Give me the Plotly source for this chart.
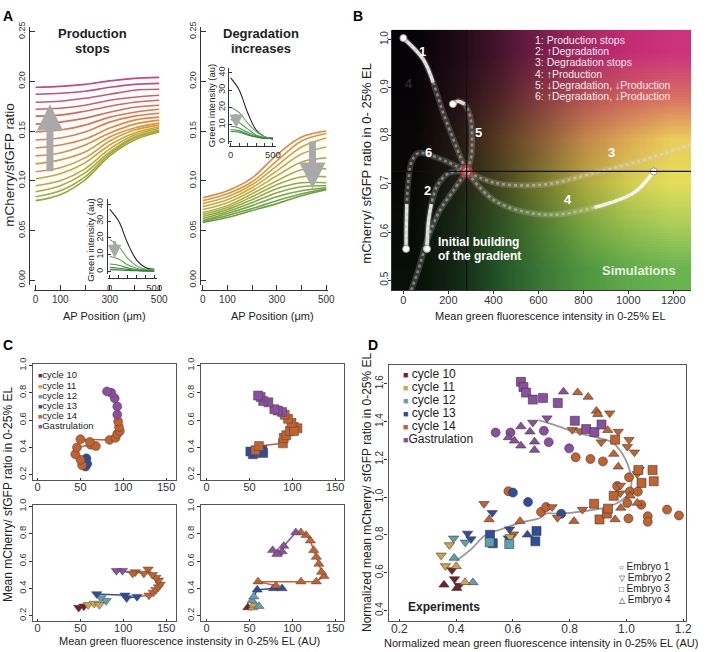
import base64
import struct
import zlib

import plotly.graph_objects as go

W, H = 709, 652
FONT = "Arial, 'Liberation Sans', sans-serif"
INK = "#333333"

# ---------------- Panel A: simulated ratio profiles ----------------
AP_X = [0, 100, 200, 300, 400, 500]

# production stops: profiles from first (bottom) to last (top)
PROD_STOP = [
    [0.080, 0.086, 0.101, 0.125, 0.141, 0.149],
    [0.084, 0.090, 0.104, 0.127, 0.143, 0.150],
    [0.089, 0.095, 0.108, 0.129, 0.144, 0.151],
    [0.095, 0.100, 0.112, 0.132, 0.146, 0.1525],
    [0.102, 0.107, 0.118, 0.136, 0.148, 0.154],
    [0.109, 0.113, 0.123, 0.140, 0.151, 0.156],
    [0.117, 0.121, 0.129, 0.144, 0.153, 0.158],
    [0.125, 0.128, 0.136, 0.148, 0.157, 0.161],
    [0.133, 0.136, 0.142, 0.153, 0.161, 0.164],
    [0.141, 0.143, 0.149, 0.159, 0.165, 0.168],
    [0.149, 0.151, 0.156, 0.164, 0.169, 0.172],
    [0.157, 0.159, 0.163, 0.169, 0.174, 0.176],
    [0.165, 0.166, 0.170, 0.175, 0.179, 0.181],
    [0.172, 0.173, 0.176, 0.181, 0.184, 0.186],
    [0.179, 0.180, 0.183, 0.187, 0.191, 0.192],
    [0.187, 0.188, 0.190, 0.194, 0.197, 0.198],
    [0.194, 0.195, 0.197, 0.2005, 0.203, 0.204],
]
PROD_STOP_COLORS = ["#93aa3e", "#a0aa3a", "#b0a838", "#c0a636", "#cca234", "#d69c34",
                    "#dc9436", "#e08c3a", "#e2843e", "#e27c44", "#e0744a", "#de6c52",
                    "#da645a", "#d65c62", "#d0546c", "#ca4c78", "#c44684"]

# degradation increases: profiles from first (top) to last (bottom)
DEG_UP = [
    [0.083, 0.090, 0.103, 0.126, 0.144, 0.150],
    [0.080, 0.087, 0.099, 0.120, 0.140, 0.1475],
    [0.077, 0.084, 0.096, 0.115, 0.134, 0.143],
    [0.074, 0.081, 0.093, 0.110, 0.127, 0.134],
    [0.071, 0.078, 0.090, 0.105, 0.119, 0.123],
    [0.068, 0.075, 0.087, 0.100, 0.111, 0.112],
    [0.066, 0.073, 0.084, 0.096, 0.104, 0.104],
    [0.064, 0.071, 0.081, 0.092, 0.098, 0.098],
    [0.062, 0.069, 0.078, 0.088, 0.094, 0.095],
    [0.060, 0.067, 0.075, 0.084, 0.090, 0.093],
    [0.059, 0.065, 0.072, 0.080, 0.087, 0.092],
    [0.058, 0.063, 0.070, 0.077, 0.085, 0.091],
]
DEG_UP_COLORS = ["#e0883e", "#dc963c", "#d8a23a", "#cca83a", "#bead3c", "#b0af3e",
                 "#a2ae40", "#94ac42", "#88a944", "#7ea544", "#74a244", "#6c9e44"]

INSET_X = [0, 100, 200, 300, 400, 500]
PROD_INSET = [
    [37, 30, 17, 7, 2.5, 1.5],
    [19, 15, 8, 3.5, 1.5, 1.0],
    [9, 7.5, 4, 2, 1.0, 0.8],
    [4.5, 3.8, 2.2, 1.2, 0.7, 0.5],
    [2.5, 2.0, 1.3, 0.8, 0.5, 0.4],
    [1.2, 1.0, 0.7, 0.5, 0.3, 0.3],
]
DEG_INSET = [
    [37, 30, 17, 7, 3, 1.5],
    [20, 17, 11, 6, 3, 2],
    [13, 11, 7.5, 4, 2.5, 2],
    [9, 8, 5.5, 3.5, 2.2, 2],
    [7, 6.5, 4.5, 3, 2, 2],
    [6, 5.5, 4, 2.8, 2, 2],
]
INSET_COLORS = ["#222222", "#6aa860", "#5a9e54", "#4a944a", "#3a8a40", "#2e8036"]

# ---------------- Panel B: simulated trajectories ----------------
CENTER = (281, 0.726)
# each path listed from its outer end towards the steady state
B_PATHS = [
    ([0, 88, 132, 176, 220, 256, 281], [1.003, 0.959, 0.911, 0.849, 0.795, 0.753, 0.726], True),
    ([220, 242, 271, 296, 305, 300, 281], [0.866, 0.872, 0.866, 0.842, 0.795, 0.753, 0.726], True),
    ([12, 12, 15, 22, 37, 66, 117, 190, 281],
     [0.565, 0.589, 0.658, 0.705, 0.747, 0.764, 0.760, 0.747, 0.726], True),
    ([105, 110, 124, 154, 205, 281], [0.565, 0.616, 0.658, 0.699, 0.723, 0.726], True),
    ([1113, 1025, 849, 630, 410, 281], [0.726, 0.682, 0.651, 0.636, 0.664, 0.726], True),
    ([1281, 1069, 849, 630, 410, 281], [0.782, 0.750, 0.723, 0.699, 0.702, 0.726], False),
    ([-29, 15, 66, 110, 161, 220, 281], [0.384, 0.452, 0.521, 0.589, 0.644, 0.685, 0.726], False),
]
B_NUMBERS = [("1", 84, 0.975), ("5", 334, 0.807), ("6", 110, 0.766), ("2", 105, 0.687),
             ("3", 923, 0.766), ("4", 730, 0.668)]
B_KEY = ["1: Production stops", "2: \u2191Degradation", "3: Degradation stops",
         "4: \u2191Production", "5: \u2193Degradation, \u2193Production",
         "6: \u2191Degradation, \u2193Production"]
# background colour field (rows bottom -> top)
B_BG = [
    [[8, 14, 8], [18, 40, 20], [35, 85, 40], [60, 120, 55], [80, 150, 65], [95, 170, 75], [105, 180, 80]],
    [[8, 12, 8], [25, 40, 22], [45, 82, 35], [80, 125, 50], [120, 165, 65], [150, 190, 80], [170, 205, 90]],
    [[8, 8, 6], [30, 32, 20], [70, 70, 30], [120, 120, 45], [175, 170, 60], [210, 205, 80], [228, 222, 90]],
    [[8, 6, 6], [35, 25, 20], [90, 60, 35], [140, 95, 55], [195, 135, 75], [222, 170, 85], [235, 205, 90]],
    [[6, 4, 6], [35, 15, 22], [80, 35, 40], [135, 60, 65], [180, 80, 85], [205, 95, 95], [215, 110, 100]],
    [[5, 3, 5], [30, 10, 20], [70, 20, 45], [120, 30, 75], [165, 40, 100], [195, 45, 115], [205, 50, 125]],
]

# ---------------- Panel C / D: experiments ----------------
CYCLES = [10, 11, 12, 13, 14, 15]
CYCLE_NAMES = ["cycle 10", "cycle 11", "cycle 12", "cycle 13", "cycle 14", "Gastrulation"]
CYCLE_COLORS = {10: "#7a1f27", 11: "#d2a24c", 12: "#5f9fb2", 13: "#2e4e9b",
                14: "#c3622e", 15: "#8b4f9f"}

C_E1_X = [57, 58, 56, 52, 50, 44, 46, 62, 68, 61, 50, 84, 91, 93, 96, 95, 94, 93, 93, 90, 86, 81]
C_E1_Y = [0.32, 0.28, 0.26, 0.27, 0.31, 0.35, 0.40, 0.42, 0.41, 0.44, 0.46, 0.455, 0.47, 0.50,
          0.52, 0.55, 0.59, 0.64, 0.70, 0.76, 0.80, 0.81]
C_E1_C = [13, 13, 13] + [14] * 14 + [15] * 5

C_E3_X = [56, 51, 54, 65, 66, 57, 61, 89, 90, 93, 97, 102, 106, 102, 99, 95, 91,
          88, 83, 79, 72, 66, 63, 60]
C_E3_Y = [0.36, 0.37, 0.35, 0.38, 0.36, 0.38, 0.41, 0.43, 0.47, 0.49, 0.52, 0.55, 0.54,
          0.52, 0.58, 0.61, 0.64, 0.66, 0.67, 0.68, 0.73, 0.74, 0.77, 0.78]
C_E3_C = [12, 13, 13, 13, 13] + [14] * 12 + [15] * 7

C_E2_X = [48, 54, 59, 66, 72, 80, 74, 69, 102, 104, 116, 130, 135, 138, 141, 143, 141,
          138, 134, 129, 124, 114, 111, 99, 92]
C_E2_Y = [0.26, 0.27, 0.28, 0.29, 0.28, 0.31, 0.33, 0.36, 0.35, 0.33, 0.34, 0.35, 0.37,
          0.39, 0.41, 0.43, 0.46, 0.48, 0.50, 0.54, 0.51, 0.52, 0.51, 0.53, 0.53]
C_E2_C = [10, 10, 11, 11, 11, 12, 12, 13, 13, 13, 13] + [14] * 12 + [15, 15]

C_E4_X = [48, 54, 55, 61, 53, 55, 59, 78, 88, 81, 60, 110, 128, 137, 134, 131, 128, 125,
          121, 116, 110, 104, 90, 88, 83, 77, 82]
C_E4_Y = [0.26, 0.26, 0.28, 0.27, 0.31, 0.34, 0.39, 0.40, 0.40, 0.42, 0.45, 0.45, 0.45,
          0.49, 0.52, 0.58, 0.63, 0.68, 0.75, 0.79, 0.81, 0.81, 0.71, 0.67, 0.66, 0.68, 0.65]
C_E4_C = [10, 11, 11, 12, 12, 12, 13, 13, 13] + [14] * 12 + [15] * 6

D_E1_X = [0.539, 0.591, 0.709, 0.726, 0.798, 0.821, 0.873, 0.917, 1.009, 0.967, 1.012, 1.040,
          1.003, 1.052, 1.007, 1.075, 1.075, 1.143, 1.185, 0.699, 0.717, 0.584, 0.600, 0.653, 0.770]
D_E1_Y = [1.342, 1.342, 1.351, 1.291, 1.258, 1.211, 1.202, 1.189, 1.105, 1.059, 1.030, 1.029,
          0.969, 0.960, 0.887, 0.899, 0.870, 0.934, 0.903, 0.922, 0.948, 1.031, 1.024, 0.974, 0.912]
D_E1_C = [15] * 5 + [14] * 17 + [13] * 3

D_E2_X = [0.670, 0.720, 0.809, 0.836, 0.941, 0.971, 1.009, 1.003, 1.028, 1.038, 0.911, 0.498,
          0.738, 0.757, 0.845, 0.978, 1.045, 0.979, 0.602, 0.527, 0.440, 0.452, 0.588, 0.584,
          0.432, 0.391, 0.376, 0.347, 0.362, 0.590, 0.385, 0.394, 0.410]
D_E2_Y = [1.395, 1.418, 1.356, 1.350, 1.444, 1.347, 1.304, 1.267, 1.237, 1.123, 1.291, 0.965,
          0.948, 0.891, 0.934, 1.021, 1.146, 1.062, 0.804, 0.917, 0.808, 0.778, 0.830, 0.783,
          0.761, 0.782, 0.747, 0.692, 0.636, 0.790, 0.614, 0.567, 0.532]
D_E2_C = [15] * 2 + [14] * 17 + [13] * 5 + [12] * 2 + [11] * 4 + [10] * 3

D_E3_X = [0.628, 0.637, 0.646, 0.670, 0.706, 0.758, 0.818, 0.858, 0.887, 0.912, 0.960, 1.042,
          1.092, 1.096, 1.053, 0.886, 0.905, 0.931, 0.935, 0.955, 0.519, 0.529, 0.683, 0.679,
          0.518, 0.587]
D_E3_Y = [1.610, 1.582, 1.553, 1.516, 1.525, 1.498, 1.404, 1.360, 1.344, 1.384, 1.304, 1.144,
          1.144, 1.084, 1.075, 0.965, 0.882, 0.913, 0.939, 1.007, 0.801, 0.756, 0.821, 0.766,
          0.761, 0.752]
D_E3_C = [15] * 10 + [14] * 10 + [13] * 4 + [12] * 2

D_E4_X = [0.584, 0.605, 0.628, 0.628, 0.660, 0.676, 0.676, 0.778, 0.828, 0.865, 0.894, 0.899,
          0.934, 0.955, 0.971, 0.516, 0.625, 0.815, 0.960, 0.980, 1.013, 1.038, 0.651, 0.393,
          0.459, 0.400, 0.431, 0.357, 0.402]
D_E4_Y = [1.316, 1.298, 1.374, 1.272, 1.346, 1.293, 1.249, 1.558, 1.554, 1.530, 1.456, 1.439,
          1.354, 1.228, 1.161, 0.882, 0.873, 0.873, 0.882, 0.943, 1.007, 0.969, 0.801, 0.678,
          0.549, 0.634, 0.549, 0.536, 0.518]
D_E4_C = [15] * 8 + [14] * 14 + [13] + [12] * 2 + [11] * 2 + [10] * 2

D_FIT_X = [0.402, 0.454, 0.500, 0.558, 0.628, 0.697, 0.714, 0.755, 0.847, 0.940, 0.986, 1.012,
           1.018, 1.008, 0.986, 0.951, 0.894, 0.824, 0.755, 0.691]
D_FIT_Y = [0.665, 0.726, 0.796, 0.830, 0.865, 0.891, 0.913, 0.913, 0.925, 0.951, 0.986, 1.030,
           1.080, 1.158, 1.228, 1.289, 1.316, 1.342, 1.377, 1.407]


# ---------------- helpers ----------------
def xdom(a, b):
    return [a / W, b / W]


def ydom(top, bottom):
    return [1 - bottom / H, 1 - top / H]


def cal(e0, e1, p0, v0, p1, v1):
    """axis range for pixel edges e0, e1 given two calibration ticks"""
    k = (v1 - v0) / (p1 - p0)
    return [v0 + (e0 - p0) * k, v0 + (e1 - p0) * k]


def base_axis(domain, rng, size=11, **kw):
    d = dict(domain=domain, range=rng, showgrid=False, zeroline=False, ticks="outside",
             ticklen=3, tickwidth=1, tickcolor=INK, linecolor=INK, linewidth=1,
             tickfont=dict(size=size, color=INK, family=FONT))
    d.update(kw)
    return d


def note(text, px, py, size=12, color="#222", **kw):
    kw.setdefault("xanchor", "center")
    kw.setdefault("yanchor", "middle")
    return dict(text=text, x=px / W, y=1 - py / H, xref="paper", yref="paper", showarrow=False,
                font=dict(size=size, color=color, family=FONT), **kw)


def png_uri(rows):
    """tiny RGB png (rows top -> bottom); the browser smooths it when stretched"""
    h, w = len(rows), len(rows[0])
    raw = b"".join(b"\x00" + bytes(v for px in row for v in px) for row in rows)

    def chunk(tag, data):
        body = tag + data
        return struct.pack(">I", len(data)) + body + struct.pack(">I", zlib.crc32(body) & 0xffffffff)

    png = (b"\x89PNG\r\n\x1a\n" + chunk(b"IHDR", struct.pack(">IIBBBBB", w, h, 8, 2, 0, 0, 0))
           + chunk(b"IDAT", zlib.compress(raw)) + chunk(b"IEND", b""))
    return "data:image/png;base64," + base64.b64encode(png).decode()


fig = go.Figure()
ann = []

# ---------------- Panel A ----------------
for ys, col in zip(PROD_STOP, PROD_STOP_COLORS):
    fig.add_trace(go.Scatter(x=AP_X, y=ys, mode="lines", line=dict(color=col, width=1.6, shape="spline"),
                             xaxis="x", yaxis="y"))
for ys, col in zip(DEG_UP, DEG_UP_COLORS):
    fig.add_trace(go.Scatter(x=AP_X, y=ys, mode="lines", line=dict(color=col, width=1.6, shape="spline"),
                             xaxis="x3", yaxis="y3"))
for ys, col in zip(PROD_INSET, INSET_COLORS):
    fig.add_trace(go.Scatter(x=INSET_X, y=ys, mode="lines", line=dict(color=col, width=1.1, shape="spline"),
                             xaxis="x2", yaxis="y2"))
for ys, col in zip(DEG_INSET, INSET_COLORS):
    fig.add_trace(go.Scatter(x=INSET_X, y=ys, mode="lines", line=dict(color=col, width=1.1, shape="spline"),
                             xaxis="x4", yaxis="y4"))

a_xt = dict(size=10, tickvals=AP_X, ticktext=["0", "100", "", "300", "", "500"], ticks="inside",
            ticklen=5)
a_yt = dict(size=9, tickvals=[0, 0.05, 0.1, 0.15, 0.2, 0.25], tickformat=".2f", tickangle=-90,
            ticks="inside", ticklen=5)
in_xt = dict(size=9.5, tickvals=INSET_X, ticktext=["0", "", "", "", "", "500"], ticks="inside",
             ticklen=3)
in_yt = dict(size=9, tickvals=[0, 10, 20, 30, 40], tickangle=-90, ticks="inside", ticklen=3)

layout_axes = dict(
    xaxis=base_axis(xdom(33, 162), cal(33, 162, 35, 0, 160, 500), anchor="free",
                    position=1 - 287 / H, showline=True, **a_xt),
    yaxis=base_axis(ydom(20, 282), cal(282, 20, 277, 0, 25, 0.25), anchor="free",
                    position=28 / W, showline=True, **a_yt),
    xaxis2=base_axis(xdom(108, 158), cal(108, 158, 110, 0, 155, 500), anchor="free",
                     position=1 - 275 / H, showline=True, **in_xt),
    yaxis2=base_axis(ydom(195, 271), cal(271, 195, 268.3, 0, 200, 40), anchor="free",
                     position=107 / W, showline=True, **in_yt),
    xaxis3=base_axis(xdom(202, 331), cal(202, 331, 204, 0, 329, 500), anchor="free",
                     position=1 - 287 / H, showline=True, **a_xt),
    yaxis3=base_axis(ydom(20, 282), cal(282, 20, 277, 0, 25, 0.25), anchor="free",
                     position=201 / W, showline=True, **a_yt),
    xaxis4=base_axis(xdom(231, 278), cal(231, 278, 232.3, 0, 275, 500), anchor="free",
                     position=1 - 141 / H, showline=True, **in_xt),
    yaxis4=base_axis(ydom(62, 139), cal(139, 62, 136.7, 0, 66.7, 40), anchor="free",
                     position=230 / W, showline=True, **in_yt),
)

# gray arrows
for xa, ya, x, y0, y1, wd, sz in [("x", "y", 58, 0.108, 0.177, 7, 0.75),
                                   ("x3", "y3", 444, 0.141, 0.092, 7, 0.75),
                                   ("x2", "y2", 55, 19, 8, 3, 0.9),
                                   ("x4", "y4", 65, 17, 8, 3, 0.9)]:
    ann.append(dict(x=x, y=y1, ax=x, ay=y0, xref=xa, yref=ya, axref=xa, ayref=ya, text="",
                    showarrow=True, arrowhead=2, arrowsize=sz, arrowwidth=wd, arrowcolor="#a9a9a9"))

ann += [
    note("<b>A</b>", 7, 9, 14, "#000"),
    note("<b>Production</b>", 93, 27, 13), note("<b>stops</b>", 93, 42, 13),
    note("<b>Degradation</b>", 263, 27, 13), note("<b>increases</b>", 263, 42, 13),
    note("mCherry/sfGFP ratio", 9, 160, 13.5, textangle=-90),
    note("AP Position (\u03bcm)", 105, 313, 11), note("AP Position (\u03bcm)", 275, 313, 11),
    note("Green intensity (au)", 91, 236, 9.5, textangle=-90),
    note("Green intensity (au)", 213, 100, 9.5, textangle=-90),
]

# ---------------- Panel B ----------------
bx_rng = cal(395, 698, 407, 0, 680, 1200)
by_rng = cal(287, 23, 277, 0.5, 33, 1.0)
layout_axes["xaxis5"] = base_axis(xdom(395, 698), bx_rng, size=11, anchor="y5",
                                  ticklabelstandoff=-3,
                                  tickvals=[0, 200, 400, 600, 800, 1000, 1200])
layout_axes["yaxis5"] = base_axis(ydom(23, 287), by_rng, size=10, anchor="x5", tickangle=-90,
                                  ticklabelstandoff=-4,
                                  tickvals=[0.5, 0.6, 0.7, 0.8, 0.9, 1.0], tickformat=".1f")
bg_image = dict(source=png_uri(B_BG[::-1]), xref="x5", yref="y5", x=bx_rng[0], y=by_rng[1],
                sizex=bx_rng[1] - bx_rng[0], sizey=by_rng[1] - by_rng[0], sizing="stretch",
                xanchor="left", yanchor="top", layer="below")

fig.add_shape(type="line", x0=CENTER[0], x1=CENTER[0], y0=by_rng[0], y1=by_rng[1],
              xref="x5", yref="y5", line=dict(color="#111", width=1.2))
fig.add_shape(type="line", x0=bx_rng[0], x1=bx_rng[1], y0=CENTER[1], y1=CENTER[1],
              xref="x5", yref="y5", line=dict(color="#111", width=1.2))

for xs, ys, has_end in B_PATHS:
    fig.add_trace(go.Scatter(x=xs, y=ys, mode="lines", xaxis="x5", yaxis="y5",
                             line=dict(color="rgba(210,210,210,0.22)", width=6, shape="spline")))
    fig.add_trace(go.Scatter(x=xs, y=ys, mode="lines", xaxis="x5", yaxis="y5",
                             line=dict(color="rgba(225,225,225,0.45)", width=2.5, shape="spline",
                                       dash="dot")))
    if has_end:
        fig.add_trace(go.Scatter(x=xs[:3], y=ys[:3], mode="lines", xaxis="x5", yaxis="y5",
                                 line=dict(color="rgba(255,255,255,0.8)", width=3.5, shape="spline")))
        fig.add_trace(go.Scatter(x=xs[:1], y=ys[:1], mode="markers", xaxis="x5", yaxis="y5",
                                 marker=dict(size=7, color="white", line=dict(color="#999", width=1))))
fig.add_trace(go.Scatter(x=[CENTER[0]], y=[CENTER[1]], mode="markers", xaxis="x5", yaxis="y5",
                         marker=dict(size=10, symbol="circle-open", color="#e03030",
                                     line=dict(width=2.5, color="#e03030"))))

for t, x, y in B_NUMBERS:
    ann.append(dict(text=f"<b>{t}</b>", x=x, y=y, xref="x5", yref="y5", showarrow=False,
                    font=dict(size=13, color="white", family=FONT)))
ann.append(dict(text="<b>4</b>", x=27, y=0.908, xref="x5", yref="y5", showarrow=False,
                font=dict(size=13, color="#2a2a2a", family=FONT)))
for i, line in enumerate(B_KEY):
    ann.append(note(line, 538, 33 + i * 11.5, 10.5, "#f4e8f0", xanchor="left"))
ann += [
    note("<b>B</b>", 361, 9, 14, "#000"),
    note("<b>Initial building</b>", 440, 238, 12, "white", xanchor="left"),
    note("<b>of the gradient</b>", 440, 252, 12, "white", xanchor="left"),
    note("<b>Simulations</b>", 685, 267, 13, "#e8f0e0", xanchor="right"),
    note("mCherry/ sfGFP ratio in 0- 25% EL", 370, 158, 13, textangle=-90),
    note("Mean green fluorescence intensity in 0-25% EL", 556, 313, 11),
]

# ---------------- Panel C ----------------
c_line = dict(showline=True, mirror=True, linecolor="#555", linewidth=1.2)
c_boxes = [
    ("6", (32, 177), (362, 480), cal(32, 177, 37, 0, 167, 150), C_E1_X, C_E1_Y, C_E1_C, "circle"),
    ("7", (202, 347), (362, 480), cal(202, 347, 208, 0, 338, 150), C_E3_X, C_E3_Y, C_E3_C, "square"),
    ("8", (32, 177), (505, 623), cal(32, 177, 37, 0, 167, 150), C_E2_X, C_E2_Y, C_E2_C, "triangle-down"),
    ("9", (202, 347), (505, 623), cal(202, 347, 208, 0, 338, 150), C_E4_X, C_E4_Y, C_E4_C, "triangle-up"),
]
for n, (l, r), (t, b), xr, xs, ys, cs, sym in c_boxes:
    yr = cal(b, t, t + 1.5, 1.0, t + 1.5 + 110.8, 0.2)
    layout_axes[f"xaxis{n}"] = base_axis(xdom(l, r), xr, size=11, anchor=f"y{n}", ticks="inside",
                                         ticklen=2, ticklabelstandoff=-4,
                                         tickvals=[0, 50, 100, 150], **c_line)
    layout_axes[f"yaxis{n}"] = base_axis(ydom(t, b), yr, size=9.5, anchor=f"x{n}", tickangle=-90,
                                         ticklabelstandoff=-1,
                                         tickvals=[0.2, 0.4, 0.6, 0.8, 1.0], tickformat=".1f",
                                         **c_line)
    # path segments coloured by the cycle they lead into
    for cyc in CYCLES:
        sx, sy = [], []
        for i in range(1, len(xs)):
            if cs[i] == cyc:
                sx += [xs[i - 1], xs[i], None]
                sy += [ys[i - 1], ys[i], None]
        if sx:
            fig.add_trace(go.Scatter(x=sx, y=sy, mode="lines", xaxis=f"x{n}", yaxis=f"y{n}",
                                     line=dict(color=CYCLE_COLORS[cyc], width=1.5)))
    fig.add_trace(go.Scatter(x=xs, y=ys, mode="markers", xaxis=f"x{n}", yaxis=f"y{n}",
                             marker=dict(symbol=sym, size=9, color=[CYCLE_COLORS[c] for c in cs],
                                         line=dict(color="#444", width=0.5))))

for i, (cyc, name) in enumerate(zip(CYCLES, CYCLE_NAMES)):
    ann.append(note(f"<span style='color:{CYCLE_COLORS[cyc]};font-size:7px'>\u25a0</span>{name}",
                    35, 373 + i * 10.3, 9.5, xanchor="left"))
ann += [
    note("<b>C</b>", 7, 343, 14, "#000"),
    note("Mean mCherry/ sfGFP ratio in 0-25% EL", 7, 494, 12, textangle=-90),
    note("Mean green fluorescence instensity in 0-25% EL (AU)", 191, 643, 11),
]

# ---------------- Panel D ----------------
layout_axes["xaxis10"] = base_axis(xdom(392, 693), cal(392, 693, 403, 0.2, 690, 1.2), size=12,
                                   anchor="y10", ticks="inside", ticklen=2, ticklabelstandoff=-4,
                                   tickvals=[0.2, 0.4, 0.6, 0.8, 1.0, 1.2], tickformat=".1f",
                                   **c_line)
layout_axes["yaxis10"] = base_axis(ydom(363, 623), cal(623, 363, 612, 0.4, 382, 1.6), size=10,
                                   anchor="x10", tickangle=-90, ticklabelstandoff=-3,
                                   tickvals=[0.4, 0.6, 0.8, 1.0, 1.2, 1.4, 1.6], tickformat=".1f",
                                   **c_line)
fig.add_trace(go.Scatter(x=D_FIT_X, y=D_FIT_Y, mode="lines", xaxis="x10", yaxis="y10",
                         line=dict(color="#999", width=1.8, shape="spline")))
for xs, ys, cs, sym in [(D_E1_X, D_E1_Y, D_E1_C, "circle"),
                        (D_E2_X, D_E2_Y, D_E2_C, "triangle-down"),
                        (D_E3_X, D_E3_Y, D_E3_C, "square"),
                        (D_E4_X, D_E4_Y, D_E4_C, "triangle-up")]:
    fig.add_trace(go.Scatter(x=xs, y=ys, mode="markers", xaxis="x10", yaxis="y10",
                             marker=dict(symbol=sym, size=9, color=[CYCLE_COLORS[c] for c in cs],
                                         line=dict(color="#3a3a3a", width=0.6))))

for i, (cyc, name) in enumerate(zip(CYCLES, CYCLE_NAMES)):
    gap = "" if cyc == 15 else " "
    ann.append(note(f"<span style='color:{CYCLE_COLORS[cyc]};font-size:9px'>\u25a0</span>{gap}{name}",
                    405, 372 + i * 13.2, 12, xanchor="left"))
for i, (sym, name) in enumerate(zip(["\u25cb", "\u25bd", "\u25a1", "\u25b3"],
                                    ["Embryo 1", "Embryo 2", "Embryo 3", "Embryo 4"])):
    ann.append(note(f"<span style='font-size:8px'>{sym}</span> {name}", 623, 567 + i * 11.3, 10,
                    xanchor="left"))
ann += [
    note("<b>D</b>", 376, 343, 14, "#000"),
    note("<b>Experiments</b>", 410, 608, 12, xanchor="left"),
    note("Normalized mean mCherry/ sfGFP ratio in 0-25% EL", 370, 492, 12, textangle=-90),
    note("Normalized mean green fluorescence intensity in 0-25% EL (AU)", 546, 645, 11),
]

fig.update_layout(width=W, height=H, margin=dict(l=0, r=0, t=0, b=0), showlegend=False,
                  paper_bgcolor="white", plot_bgcolor="white", annotations=ann,
                  images=[bg_image], font=dict(family=FONT, color=INK), **layout_axes)
fig.write_html("out.html", config={"displayModeBar": False},
               post_script="document.body.style.margin='0px';")
